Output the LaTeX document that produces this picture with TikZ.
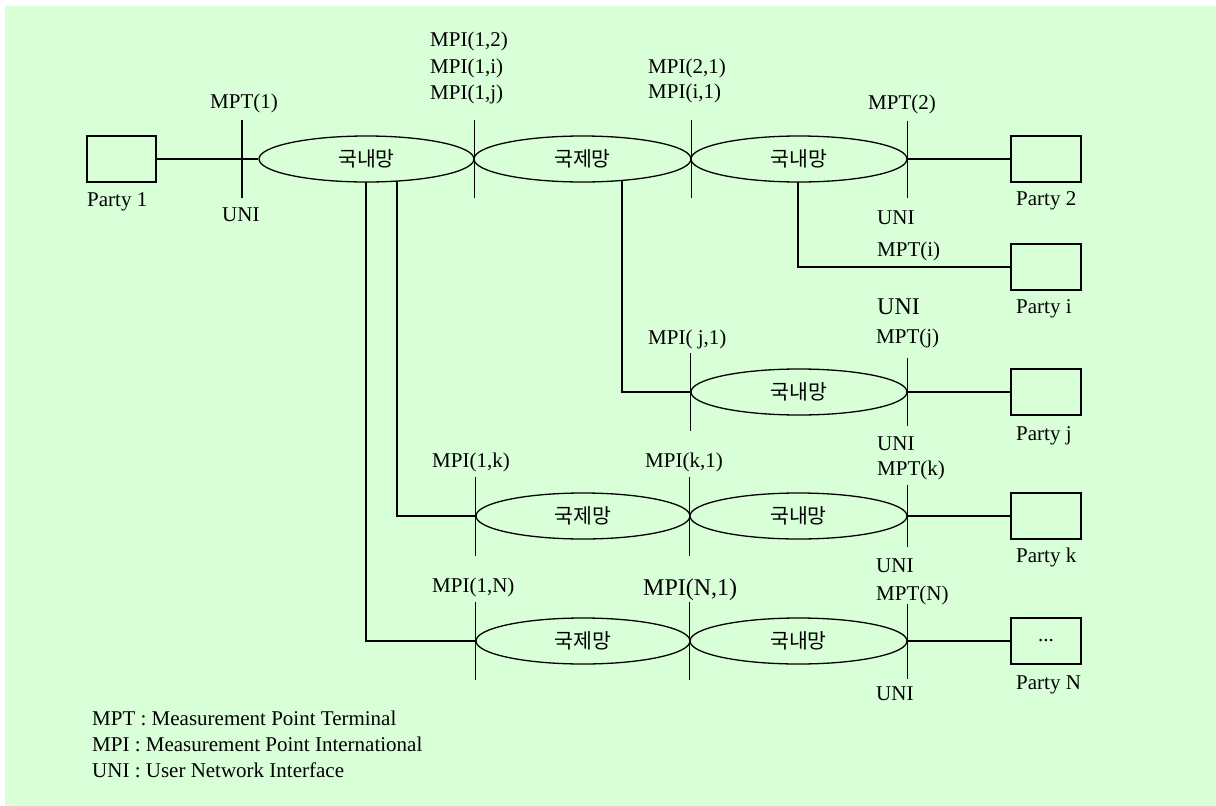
\documentclass[tikz,border=0pt]{standalone}
\usepackage{fontspec}
\setmainfont{Liberation Serif}
\newfontfamily\kfont{Noto Sans CJK KR}
\usetikzlibrary{shapes.geometric}
\definecolor{bggreen}{RGB}{217,255,217}
\pgfdeclarelayer{back}
\pgfdeclarelayer{wires}
\pgfsetlayers{back,wires,main}
\begin{document}
\begin{tikzpicture}[x=1pt,y=-1pt,
  net/.style={draw, ellipse, fill=bggreen, line width=1.3pt, inner sep=0pt, minimum height=46pt, font=\kfont\fontsize{20.5}{24}\selectfont},
  party/.style={draw, rectangle, line width=1.3pt, minimum width=70pt, minimum height=46pt, inner sep=0pt, font=\fontsize{21}{25}\selectfont},
  lbl/.style={anchor=west, inner sep=0pt, font=\fontsize{21}{25}\selectfont, text height=14pt, text depth=0pt},
  biglbl/.style={lbl, font=\fontsize{24}{28}\selectfont, text height=16pt},
  wire/.style={line width=1.3pt},
  bar/.style={line width=1.3pt}]
\begin{pgfonlayer}{back}
\fill[white] (0,0) rectangle (1216,806);
\fill[bggreen] (5,6) rectangle (1216,806);
\end{pgfonlayer}
% parties and networks
\node[party, minimum width=69pt] (p1) at (121.5,159) {};
\node[net, minimum width=215pt] (e1) at (366.5,159) {국내망};
\node[net, minimum width=217pt] (e2) at (582.5,159) {국제망};
\node[net, minimum width=216pt] (e3) at (799,159) {국내망};
\node[party] (p2) at (1046,159) {};
\node[party] (pi) at (1046,267) {};
\node[net, minimum width=216pt] (ej) at (799,392) {국내망};
\node[party] (pj) at (1046,392) {};
\node[net, minimum width=214pt] (ek1) at (583,516) {국제망};
\node[net, minimum width=217pt] (ek2) at (798.5,516) {국내망};
\node[party] (pk) at (1046,516) {};
\node[net, minimum width=214pt] (en1) at (583,641) {국제망};
\node[net, minimum width=217pt] (en2) at (798.5,641) {국내망};
\node[party] (pn) at (1046,641) {...};
% branch coordinates
\coordinate (mpt1) at (242,159);
\coordinate (bi) at (798,267);
\coordinate (bj) at (622,392);
\coordinate (bk) at (397,516);
\coordinate (bn) at (366,641);
% connectors
\begin{pgfonlayer}{wires}
\draw[wire] (p1.east) -- (e1.west);
\draw[wire] (e3.east) -- (p2.west);
\draw[wire] (e3.center -| bi) |- (pi.west);
\draw[wire] (e2.center -| bj) |- (ej.west);
\draw[wire] (ej.east) -- (pj.west);
\draw[wire] (e1.center -| bk) |- (ek1.west);
\draw[wire] (ek2.east) -- (pk.west);
\draw[wire] (e1.center -| bn) |- (en1.west);
\draw[wire] (en2.east) -- (pn.west);
\end{pgfonlayer}
% measurement point bars
\draw[bar] ([yshift=39pt]mpt1) -- ([yshift=-39pt]mpt1);
\draw[bar] ([yshift=39pt]e1.east) -- ([yshift=-39pt]e1.east);
\draw[bar] ([yshift=39pt]e2.east) -- ([yshift=-39pt]e2.east);
\draw[bar] ([yshift=38.5pt]e3.east) -- ([yshift=-38.5pt]e3.east);
\draw[bar] ([yshift=39pt]ej.west) -- ([yshift=-39pt]ej.west);
\draw[bar] ([yshift=34pt]ej.east) -- ([yshift=-34pt]ej.east);
\draw[bar] ([yshift=39.5pt]ek1.west) -- ([yshift=-39.5pt]ek1.west);
\draw[bar] ([yshift=39.5pt]ek2.west) -- ([yshift=-39.5pt]ek2.west);
\draw[bar] ([yshift=31pt]ek2.east) -- ([yshift=-31pt]ek2.east);
\draw[bar] ([yshift=39pt]en1.west) -- ([yshift=-39pt]en1.west);
\draw[bar] ([yshift=39pt]en2.west) -- ([yshift=-39pt]en2.west);
\draw[bar] ([yshift=37.5pt]en2.east) -- ([yshift=-37.5pt]en2.east);
% labels
\node[lbl] (l1) at (210,101) {MPT(1)};
\node[lbl] (l2) at (222,214) {UNI};
\node[lbl] (l3) at (430,39) {MPI(1,2)};
\node[lbl] (l4) at (430,66) {MPI(1,i)};
\node[lbl] (l5) at (430,92) {MPI(1,j)};
\node[lbl] (l6) at (648,66) {MPI(2,1)};
\node[lbl] (l7) at (648,91) {MPI(i,1)};
\node[lbl] (l8) at (868,102) {MPT(2)};
\node[lbl] (l9) at (877,217) {UNI};
\node[lbl] (l10) at (877,249) {MPT(i)};
\node[biglbl] (l11) at (877,306) {UNI};
\node[lbl] (l12) at (876,336) {MPT(j)};
\node[lbl] (l13) at (648,337) {MPI( j,1)};
\node[lbl] (l14) at (877,443) {UNI};
\node[lbl] (l15) at (877,468) {MPT(k)};
\node[lbl] (l16) at (432,460) {MPI(1,k)};
\node[lbl] (l17) at (645,460) {MPI(k,1)};
\node[lbl] (l18) at (876,565) {UNI};
\node[lbl] (l19) at (876,593) {MPT(N)};
\node[lbl] (l20) at (432,585) {MPI(1,N)};
\node[biglbl] (l21) at (643,587) {MPI(N,1)};
\node[lbl] (l22) at (876,693) {UNI};
% party labels
\node[lbl] (t1) at (87,199) {Party 1};
\node[lbl] (t2) at (1016,198) {Party 2};
\node[lbl] (ti) at (1016,306) {Party i};
\node[lbl] (tj) at (1016,433) {Party j};
\node[lbl] (tk) at (1016,555) {Party k};
\node[lbl] (tn) at (1016,682) {Party N};
% legend
\node[lbl] (g1) at (92,718) {MPT : Measurement Point Terminal};
\node[lbl] (g2) at (92,744) {MPI : Measurement Point International};
\node[lbl] (g3) at (92,770) {UNI : User Network Interface};
\end{tikzpicture}
\end{document}
